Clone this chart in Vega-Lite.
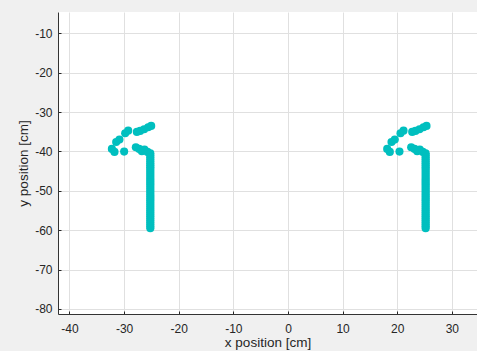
{
  "$schema": "https://vega.github.io/schema/vega-lite/v6.json",
  "width": 419,
  "height": 302,
  "autosize": {"type": "none"},
  "padding": {"left": 58, "top": 12, "right": 0, "bottom": 37},
  "background": "#f0f0f0",
  "view": {"fill": "white", "stroke": null},
  "config": {
    "font": "Liberation Sans",
    "axis": {
      "labelFont": "Liberation Sans",
      "titleFont": "Liberation Sans",
      "labelFontSize": 12,
      "titleFontSize": 13.5,
      "titleFontWeight": "normal",
      "labelColor": "#262626",
      "titleColor": "#262626",
      "domainColor": "#333333",
      "domainWidth": 1,
      "tickColor": "#262626",
      "tickSize": -3,
      "gridColor": "#e0e0e0",
      "gridWidth": 1,
      "labelExpr": "'' + datum.value"
    }
  },
  "data": {
    "values": [
      {"x": -32.24, "y": -39.37}, {"x": -31.76, "y": -40.13}, {"x": -29.99, "y": -40.06},
      {"x": -31.45, "y": -37.63}, {"x": -30.85, "y": -37.01}, {"x": -29.8, "y": -35.39},
      {"x": -29.25, "y": -34.73}, {"x": -27.66, "y": -35.06}, {"x": -27.06, "y": -34.8},
      {"x": -26.33, "y": -34.37}, {"x": -25.59, "y": -33.86}, {"x": -25.04, "y": -33.53},
      {"x": -27.85, "y": -38.94}, {"x": -27.24, "y": -39.37}, {"x": -26.75, "y": -39.96},
      {"x": -26.27, "y": -39.55}, {"x": -25.72, "y": -40.13},
      {"x": -25.2, "y": -40.5}, {"x": -25.2, "y": -41.0}, {"x": -25.2, "y": -41.5}, {"x": -25.2, "y": -42.0},
      {"x": -25.2, "y": -42.5}, {"x": -25.2, "y": -43.0}, {"x": -25.2, "y": -43.5}, {"x": -25.2, "y": -44.0},
      {"x": -25.2, "y": -44.5}, {"x": -25.2, "y": -45.0}, {"x": -25.2, "y": -45.5}, {"x": -25.2, "y": -46.0},
      {"x": -25.2, "y": -46.5}, {"x": -25.2, "y": -47.0}, {"x": -25.2, "y": -47.5}, {"x": -25.2, "y": -48.0},
      {"x": -25.2, "y": -48.5}, {"x": -25.2, "y": -49.0}, {"x": -25.2, "y": -49.5}, {"x": -25.2, "y": -50.0},
      {"x": -25.2, "y": -50.5}, {"x": -25.2, "y": -51.0}, {"x": -25.2, "y": -51.5}, {"x": -25.2, "y": -52.0},
      {"x": -25.2, "y": -52.5}, {"x": -25.2, "y": -53.0}, {"x": -25.2, "y": -53.5}, {"x": -25.2, "y": -54.0},
      {"x": -25.2, "y": -54.5}, {"x": -25.2, "y": -55.0}, {"x": -25.2, "y": -55.5}, {"x": -25.2, "y": -56.0},
      {"x": -25.2, "y": -56.5}, {"x": -25.2, "y": -57.0}, {"x": -25.2, "y": -57.5}, {"x": -25.2, "y": -58.0},
      {"x": -25.2, "y": -58.5}, {"x": -25.2, "y": -59.0}, {"x": -25.2, "y": -59.5},
      {"x": 18.16, "y": -39.37}, {"x": 18.64, "y": -40.13}, {"x": 20.41, "y": -40.06},
      {"x": 18.95, "y": -37.63}, {"x": 19.55, "y": -37.01}, {"x": 20.6, "y": -35.39},
      {"x": 21.15, "y": -34.73}, {"x": 22.74, "y": -35.06}, {"x": 23.34, "y": -34.8},
      {"x": 24.07, "y": -34.37}, {"x": 24.81, "y": -33.86}, {"x": 25.36, "y": -33.53},
      {"x": 22.55, "y": -38.94}, {"x": 23.16, "y": -39.37}, {"x": 23.65, "y": -39.96},
      {"x": 24.13, "y": -39.55}, {"x": 24.68, "y": -40.13},
      {"x": 25.2, "y": -40.5}, {"x": 25.2, "y": -41.0}, {"x": 25.2, "y": -41.5}, {"x": 25.2, "y": -42.0},
      {"x": 25.2, "y": -42.5}, {"x": 25.2, "y": -43.0}, {"x": 25.2, "y": -43.5}, {"x": 25.2, "y": -44.0},
      {"x": 25.2, "y": -44.5}, {"x": 25.2, "y": -45.0}, {"x": 25.2, "y": -45.5}, {"x": 25.2, "y": -46.0},
      {"x": 25.2, "y": -46.5}, {"x": 25.2, "y": -47.0}, {"x": 25.2, "y": -47.5}, {"x": 25.2, "y": -48.0},
      {"x": 25.2, "y": -48.5}, {"x": 25.2, "y": -49.0}, {"x": 25.2, "y": -49.5}, {"x": 25.2, "y": -50.0},
      {"x": 25.2, "y": -50.5}, {"x": 25.2, "y": -51.0}, {"x": 25.2, "y": -51.5}, {"x": 25.2, "y": -52.0},
      {"x": 25.2, "y": -52.5}, {"x": 25.2, "y": -53.0}, {"x": 25.2, "y": -53.5}, {"x": 25.2, "y": -54.0},
      {"x": 25.2, "y": -54.5}, {"x": 25.2, "y": -55.0}, {"x": 25.2, "y": -55.5}, {"x": 25.2, "y": -56.0},
      {"x": 25.2, "y": -56.5}, {"x": 25.2, "y": -57.0}, {"x": 25.2, "y": -57.5}, {"x": 25.2, "y": -58.0},
      {"x": 25.2, "y": -58.5}, {"x": 25.2, "y": -59.0}, {"x": 25.2, "y": -59.5}
    ]
  },
  "mark": {"type": "point", "filled": true, "shape": "circle", "size": 66, "color": "#00bfbf", "opacity": 1},
  "encoding": {
    "x": {
      "field": "x", "type": "quantitative",
      "scale": {"domain": [-42.1, 34.6], "nice": false, "zero": false},
      "axis": {"title": "x position [cm]", "values": [-40, -30, -20, -10, 0, 10, 20, 30], "labelPadding": 12, "titlePadding": 1}
    },
    "y": {
      "field": "y", "type": "quantitative",
      "scale": {"domain": [-81.3, -4.6], "nice": false, "zero": false},
      "axis": {"title": "y position [cm]", "values": [-80, -70, -60, -50, -40, -30, -20, -10], "labelPadding": 9, "titlePadding": 4}
    }
  }
}
